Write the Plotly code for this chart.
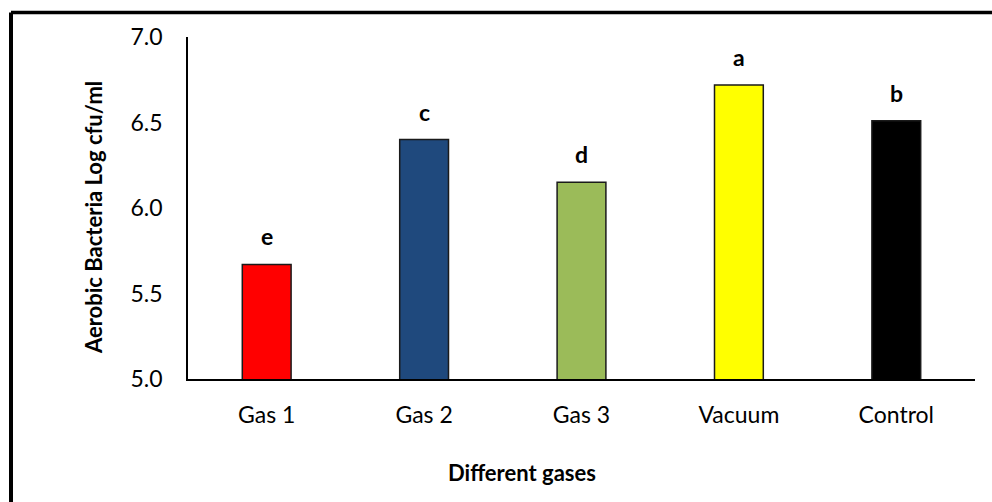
import plotly.graph_objects as go

# Aerobic bacteria counts per packaging gas
categories = ["Gas 1", "Gas 2", "Gas 3", "Vacuum", "Control"]
values = [5.67, 6.40, 6.15, 6.72, 6.51]
letters = ["e", "c", "d", "a", "b"]
colors = ["#FF0000", "#1F497D", "#9BBB59", "#FFFF00", "#000000"]
y_ticks = [5.0, 5.5, 6.0, 6.5, 7.0]

FONT = "Lato"
W, H = 992, 502
L, R, T, B = 188, 17, 37, 123
pw, ph = W - L - R, H - T - B

fig = go.Figure()
fig.add_trace(go.Bar(
    x=categories, y=values, width=0.31,
    marker=dict(color=colors, line=dict(color="#1a1a1a", width=1.5)),
    base=0, showlegend=False,
))

for c, v, t in zip(categories, values, letters):
    fig.add_annotation(x=c, y=v, text=f"<b>{t}</b>", showarrow=False,
                       yanchor="bottom", yshift=12,
                       font=dict(family=FONT, size=23, color="black"))

# pixel -> paper helpers
def px_x(p):
    return (p - L) / pw

def px_y(p):
    return (H - B - p) / ph

# axis titles, placed as annotations
fig.add_annotation(xref="paper", yref="paper", x=px_x(94), y=px_y(218),
                   text="<b>Aerobic Bacteria Log cfu/ml</b>", textangle=-90,
                   showarrow=False, xanchor="center", yanchor="middle",
                   font=dict(family=FONT, size=22, color="black"))
fig.add_annotation(xref="paper", yref="paper", x=px_x(522), y=px_y(472),
                   text="<b>Different gases</b>",
                   showarrow=False, xanchor="center", yanchor="middle",
                   font=dict(family=FONT, size=22, color="black"))

# outer frame (top and left edges)
fig.add_shape(type="line", xref="paper", yref="paper",
              x0=px_x(11), x1=px_x(1000), y0=px_y(12.5), y1=px_y(12.5),
              line=dict(color="black", width=3.5))
fig.add_shape(type="line", xref="paper", yref="paper",
              x0=px_x(11), x1=px_x(11), y0=px_y(12.5), y1=px_y(510),
              line=dict(color="black", width=4))

fig.update_layout(
    width=W, height=H,
    margin=dict(l=L, r=R, t=T, b=B),
    paper_bgcolor="white", plot_bgcolor="white",
    font=dict(family=FONT, color="black"),
    bargap=0.69,
)
fig.update_xaxes(
    showline=True, linecolor="black", linewidth=2,
    ticks="", tickfont=dict(size=23, family=FONT, color="black"),
    ticklabelstandoff=14,
)
fig.update_yaxes(
    range=[5.0, 7.0], tickvals=y_ticks, ticktext=[f"{v:.1f}" for v in y_ticks],
    showline=True, linecolor="black", linewidth=1.5, showgrid=False, zeroline=False,
    ticks="", tickfont=dict(size=23, family=FONT, color="black"),
    ticklabelstandoff=19,
)

fig.write_html("out.html")
